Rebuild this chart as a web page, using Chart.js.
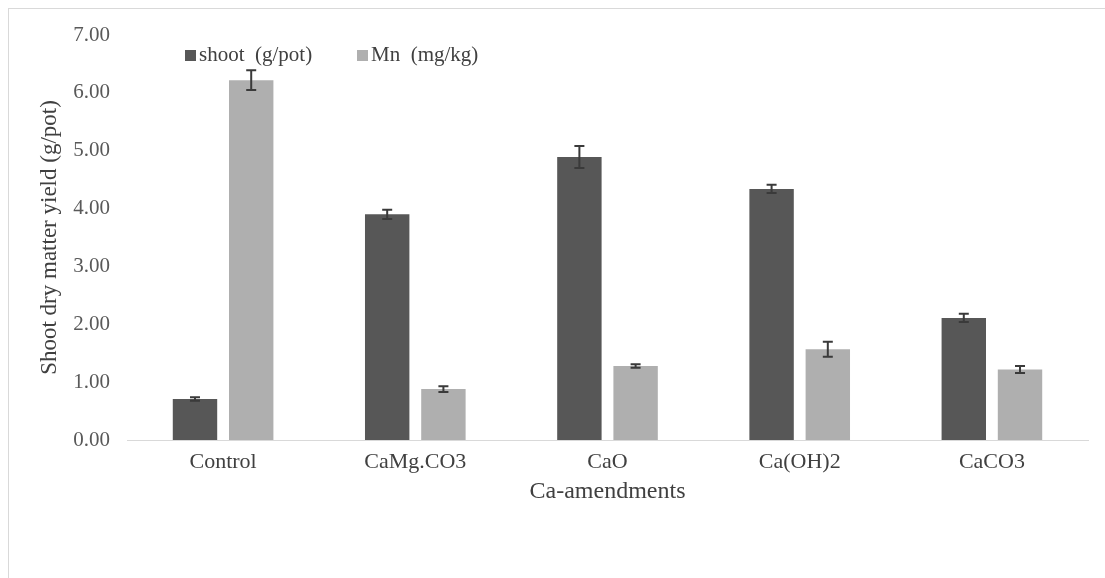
<!DOCTYPE html>
<html>
<head>
<meta charset="utf-8">
<script src="https://cdn.jsdelivr.net/npm/chart.js@4.4.1/dist/chart.umd.min.js"></script>
<style>
  html, body { margin: 0; padding: 0; background: #fff; overflow: hidden; }
  #wrap { position: relative; width: 1105px; height: 578px; }
  #frame { position: absolute; left: 8px; top: 8px; width: 1200px; height: 700px; border: 1px solid #d9d9d9; box-sizing: border-box; }
  #rateChart { position: absolute; left: 0; top: 0; }
</style>
</head>
<body>
<div id="wrap">
  <div id="frame"></div>
  <canvas id="rateChart" width="1105" height="578"></canvas>
</div>
<script>
// chart data
const categories = ["Control", "CaMg.CO3", "CaO", "Ca(OH)2", "CaCO3"];
const shootValues = [0.71, 3.90, 4.89, 4.34, 2.11];
const shootErrors = [0.03, 0.08, 0.19, 0.07, 0.07];
const mnValues = [6.22, 0.88, 1.28, 1.57, 1.22];
const mnErrors = [0.17, 0.05, 0.03, 0.13, 0.06];
const yTicks = [0, 1, 2, 3, 4, 5, 6, 7];

const seriesNames = ["shoot  (g/pot)", "Mn  (mg/kg)"];
const darkGray = "#575757";
const lightGray = "#afafaf";
const fontFamily = "'Liberation Serif', 'Times New Roman', serif";

// error bars drawn on top of each bar
const errorBars = {
  id: "errorBars",
  afterDatasetsDraw(chart) {
    const c = chart.ctx;
    const y = chart.scales.y;
    c.save();
    c.strokeStyle = "#3a3a3a";
    c.lineWidth = 2;
    chart.data.datasets.forEach((ds, i) => {
      const meta = chart.getDatasetMeta(i);
      meta.data.forEach((bar, j) => {
        const v = ds.data[j];
        const e = ds.errors[j];
        const top = y.getPixelForValue(v + e);
        const bot = y.getPixelForValue(v - e);
        const x = bar.x;
        c.beginPath();
        c.moveTo(x, top); c.lineTo(x, bot);
        c.moveTo(x - 5, top); c.lineTo(x + 5, top);
        c.moveTo(x - 5, bot); c.lineTo(x + 5, bot);
        c.stroke();
      });
    });
    c.restore();
  }
};

// legend floats inside the plot, near the top left
const floatLegend = {
  id: "floatLegend",
  afterDraw(chart) {
    const c = chart.ctx;
    const starts = [185, 357];
    c.save();
    c.font = "21px " + fontFamily;
    c.textBaseline = "middle";
    chart.data.datasets.forEach((ds, i) => {
      c.fillStyle = ds.backgroundColor;
      c.fillRect(starts[i], 50, 11, 11);
      c.fillStyle = "#404040";
      c.fillText(ds.label, starts[i] + 14, 55);
    });
    c.restore();
  }
};

const ctx = document.getElementById("rateChart").getContext("2d");

new Chart(ctx, {
  type: "bar",
  data: {
    labels: categories,
    datasets: [
      { label: seriesNames[0], data: shootValues, errors: shootErrors, backgroundColor: darkGray },
      { label: seriesNames[1], data: mnValues, errors: mnErrors, backgroundColor: lightGray }
    ]
  },
  options: {
    responsive: false,
    animation: false,
    layout: { padding: { top: 35, right: 17, bottom: 68, left: 0 } },
    datasets: { bar: { categoryPercentage: 0.585, barPercentage: 0.79 } },
    plugins: {
      legend: { display: false },
      tooltip: { enabled: false }
    },
    scales: {
      x: {
        grid: { display: false, drawTicks: false },
        border: { color: "#d9d9d9", width: 1 },
        ticks: { color: "#404040", font: { family: fontFamily, size: 22 }, padding: 9 },
        title: { display: true, text: "Ca-amendments", color: "#404040", font: { family: fontFamily, size: 24 }, padding: { top: 2, bottom: 4 } },
        afterFit(scale) { scale.height = 70; }
      },
      y: {
        min: 0,
        max: 7,
        grid: { display: false, drawTicks: false },
        border: { display: false },
        afterBuildTicks(scale) { scale.ticks = yTicks.map(v => ({ value: v })); },
        ticks: {
          color: "#595959",
          font: { family: fontFamily, size: 21 },
          padding: 17,
          callback: v => Number(v).toFixed(2)
        },
        title: { display: true, text: "Shoot dry matter yield (g/pot)", color: "#404040", font: { family: fontFamily, size: 23 }, padding: { top: 36, bottom: 2 } },
        afterFit(scale) { scale.width = 127; }
      }
    }
  },
  plugins: [errorBars, floatLegend]
});
</script>
</body>
</html>
